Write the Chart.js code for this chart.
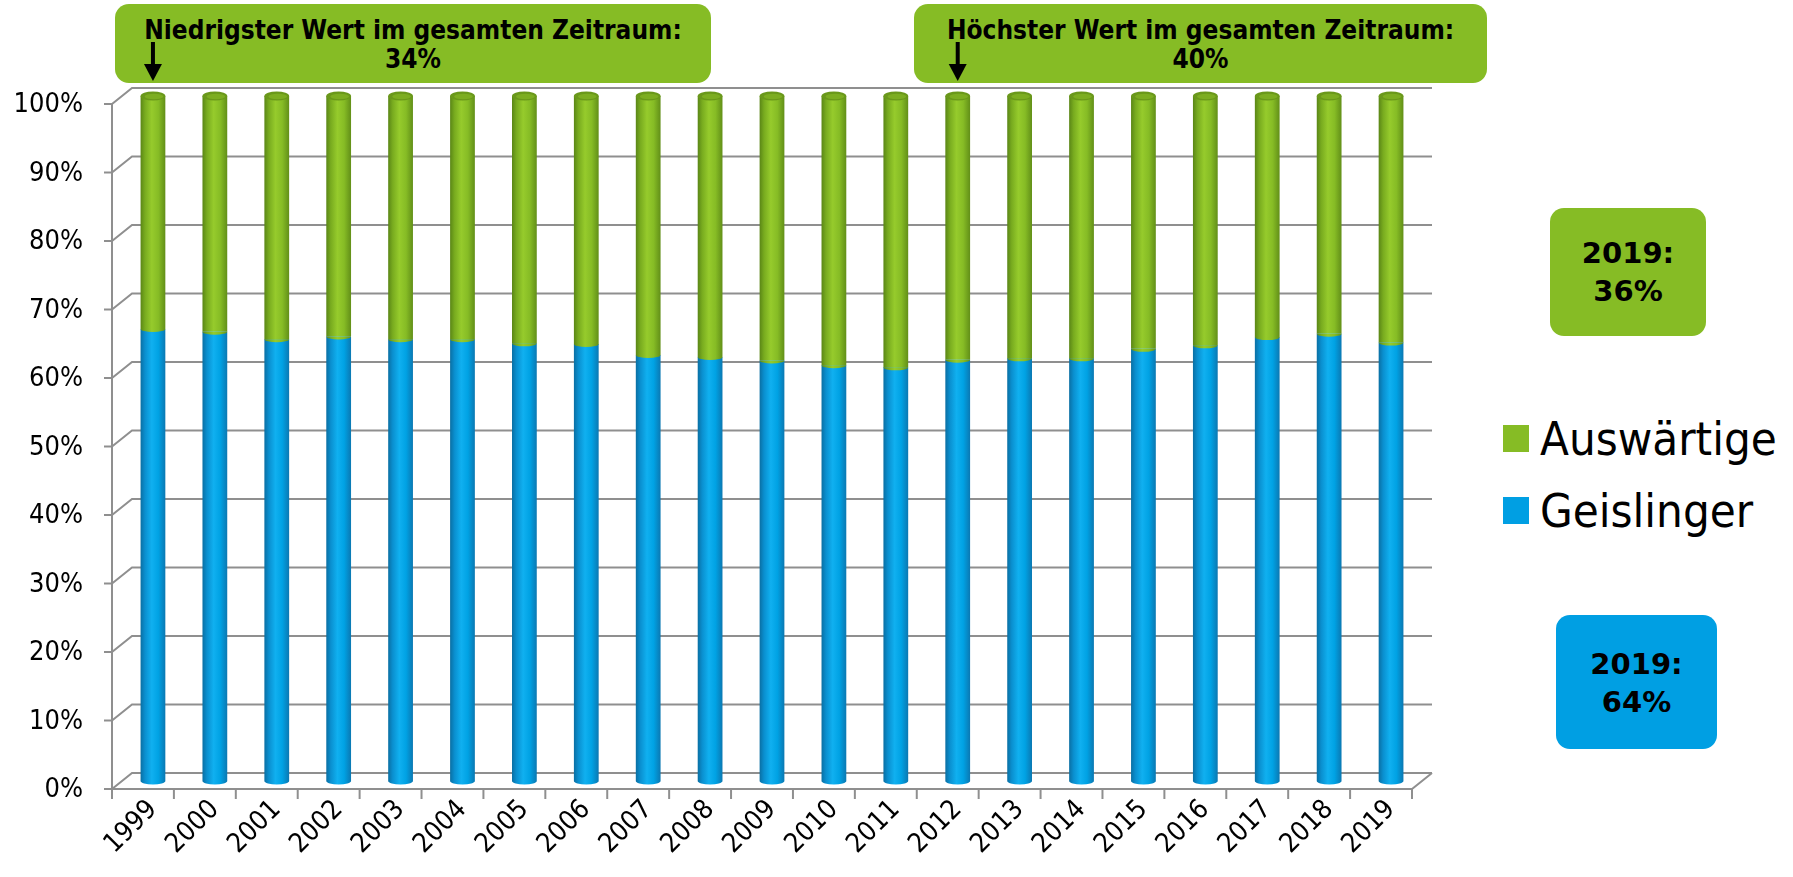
<!DOCTYPE html>
<html lang="de">
<head>
<meta charset="utf-8">
<title>Geislinger und Auswärtige 1999-2019</title>
<script src="https://cdn.jsdelivr.net/npm/chart.js@4.4.1/dist/chart.umd.min.js"></script>
<style>
  html, body { margin: 0; padding: 0; background: #fff; }
  body { width: 1793px; height: 877px; position: relative; overflow: hidden; }
  #chart { position: absolute; left: 0; top: 0; z-index: 2; }
  .box {
    position: absolute; z-index: 1; border-radius: 14px; color: #000;
    text-align: center; font-weight: bold;
  }
  .note { background: #86bc25; font-family: "DejaVu Sans Condensed", "DejaVu Sans", sans-serif; font-size: 26px; line-height: 29px; }
  .year { font-family: "DejaVu Sans", sans-serif; font-size: 29px; line-height: 38px; }
  .legend { position: absolute; z-index: 1; left: 1503px; font-family: "DejaVu Sans Condensed", "DejaVu Sans", sans-serif; font-size: 47px; }
  .legend div { display: flex; align-items: center; height: 60px; }
  .legend span.sq { display: inline-block; width: 26px; height: 27px; margin-right: 11px; }
</style>
</head>
<body>
<div class="box note" style="left:115px; top:4px; width:596px; height:79px; padding-top:12px; box-sizing:border-box;">Niedrigster Wert im gesamten Zeitraum:<br>34%</div>
<div class="box note" style="left:914px; top:4px; width:573px; height:79px; padding-top:12px; box-sizing:border-box;">Höchster Wert im gesamten Zeitraum:<br>40%</div>
<div class="box year" style="left:1550px; top:208px; width:156px; height:128px; background:#86bc25; padding-top:26px; box-sizing:border-box;">2019:<br>36%</div>
<div class="box year" style="left:1556px; top:615px; width:161px; height:134px; background:#009fe3; padding-top:30px; box-sizing:border-box;">2019:<br>64%</div>
<div class="legend" style="top:408px;">
  <div><span class="sq" style="background:#86bc25"></span>Auswärtige</div>
  <div style="margin-top:12px"><span class="sq" style="background:#009fe3"></span>Geislinger</div>
</div>
<canvas id="chart" width="1793" height="877"></canvas>
<script>
// Anteil der Geislinger / Auswärtigen in Prozent
const years = ["1999", "2000", "2001", "2002", "2003", "2004", "2005", "2006", "2007", "2008", "2009",
  "2010", "2011", "2012", "2013", "2014", "2015", "2016", "2017", "2018", "2019"];
const geislinger = [66.0, 65.6, 64.5, 64.9, 64.5, 64.5, 63.9, 63.8, 62.2, 61.9, 61.4,
  60.7, 60.4, 61.5, 61.7, 61.7, 63.1, 63.6, 64.8, 65.3, 64.0];
const auswaertige = geislinger.map((v) => Math.round((100 - v) * 10) / 10);
const yTicks = [0, 10, 20, 30, 40, 50, 60, 70, 80, 90, 100];
const arrowYears = ["1999", "2012"];

// 3D-Versatz der Wand (vorne/hinten)
const DX = 10;
const DY = 8;

const blueStops = ["#0a6fa3", "#0a8fcf", "#10b0f0", "#00a2e4", "#0b78b2"];
const greenStops = ["#5a8616", "#78ab1f", "#96cb2c", "#86bc25", "#628f18"];

function barGradient(ctx, x, w, stops) {
  const g = ctx.createLinearGradient(x - w / 2, 0, x + w / 2, 0);
  g.addColorStop(0, stops[0]);
  g.addColorStop(0.18, stops[1]);
  g.addColorStop(0.45, stops[2]);
  g.addColorStop(0.72, stops[3]);
  g.addColorStop(1, stops[4]);
  return g;
}

function scriptedFill(stops, plain) {
  return function (context) {
    const chart = context.chart;
    const xs = chart.scales.x;
    if (!chart.chartArea || !xs) return plain;
    const x = xs.getPixelForValue(context.dataIndex);
    const w = (chart.chartArea.right - chart.chartArea.left) / years.length * 0.4;
    return barGradient(chart.ctx, x, w, stops);
  };
}

const wallPlugin = {
  id: "wall3d",
  beforeDatasetsDraw(chart) {
    const { ctx, chartArea, scales } = chart;
    const l = chartArea.left, r = chartArea.right;
    const y = scales.y;
    const y0 = y.getPixelForValue(0), y1 = y.getPixelForValue(100);
    ctx.save();
    ctx.strokeStyle = "#8f8f8f";
    ctx.lineWidth = 2;
    yTicks.forEach((v) => {
      const py = y.getPixelForValue(v);
      ctx.beginPath();
      ctx.moveTo(l - DX - 8, py + DY);
      ctx.lineTo(l - DX, py + DY);
      ctx.lineTo(l + DX, py - DY);
      ctx.lineTo(r + DX, py - DY);
      ctx.stroke();
    });
    ctx.beginPath();
    ctx.moveTo(l - DX, y1 + DY);
    ctx.lineTo(l - DX, y0 + DY);
    ctx.lineTo(r - DX, y0 + DY);
    ctx.lineTo(r + DX, y0 - DY);
    ctx.stroke();
    const n = years.length;
    for (let k = 0; k <= n; k++) {
      const xk = l - DX + k * (r - l) / n;
      ctx.beginPath();
      ctx.moveTo(xk, y0 + DY);
      ctx.lineTo(xk, y0 + DY + 10);
      ctx.stroke();
    }
    ctx.restore();
  },
  afterDatasetsDraw(chart) {
    const { ctx } = chart;
    const blue = chart.getDatasetMeta(0).data;
    const green = chart.getDatasetMeta(1).data;
    ctx.save();
    blue.forEach((el, i) => {
      const w = el.width, x = el.x;
      // Boden des blauen Zylinders
      ctx.fillStyle = barGradient(ctx, x, w, blueStops);
      ctx.beginPath();
      ctx.ellipse(x, el.base, w / 2, 3.5, 0, 0, Math.PI);
      ctx.fill();
      // Übergang blau/grün
      const g = green[i];
      ctx.fillStyle = barGradient(ctx, x, w, greenStops);
      ctx.beginPath();
      ctx.ellipse(x, g.base, w / 2, 3, 0, 0, Math.PI);
      ctx.fill();
      // Deckel
      ctx.fillStyle = "#6a981b";
      ctx.beginPath();
      ctx.ellipse(x, g.y, w / 2, 4.5, 0, 0, Math.PI * 2);
      ctx.fill();
      ctx.fillStyle = "#7cad21";
      ctx.beginPath();
      ctx.ellipse(x + 1, g.y + 0.5, w / 2 - 3, 2.8, 0, 0, Math.PI * 2);
      ctx.fill();
    });
    ctx.restore();
  },
  afterDraw(chart) {
    const { ctx, scales } = chart;
    ctx.save();
    ctx.fillStyle = "#000";
    ctx.strokeStyle = "#000";
    arrowYears.forEach((yr) => {
      const x = scales.x.getPixelForValue(years.indexOf(yr));
      ctx.lineWidth = 4;
      ctx.beginPath();
      ctx.moveTo(x, 42);
      ctx.lineTo(x, 68);
      ctx.stroke();
      ctx.beginPath();
      ctx.moveTo(x - 9, 64);
      ctx.lineTo(x + 9, 64);
      ctx.lineTo(x, 81);
      ctx.closePath();
      ctx.fill();
    });
    ctx.restore();
  }
};

const tahomaLike = "'DejaVu Sans Condensed', 'DejaVu Sans', sans-serif";

new Chart(document.getElementById("chart"), {
  type: "bar",
  data: {
    labels: years,
    datasets: [
      {
        label: "Geislinger",
        data: geislinger,
        backgroundColor: scriptedFill(blueStops, "#009fe3"),
        borderWidth: 0,
        barPercentage: 0.5,
        categoryPercentage: 0.8
      },
      {
        label: "Auswärtige",
        data: auswaertige,
        backgroundColor: scriptedFill(greenStops, "#86bc25"),
        borderWidth: 0,
        barPercentage: 0.5,
        categoryPercentage: 0.8
      }
    ]
  },
  options: {
    responsive: false,
    animation: false,
    devicePixelRatio: 1,
    layout: { padding: { top: 96, right: 371, left: 0, bottom: 0 } },
    plugins: {
      legend: { display: false },
      tooltip: { enabled: false }
    },
    scales: {
      x: {
        stacked: true,
        grid: { display: false, drawTicks: false },
        border: { display: false },
        afterFit: (scale) => { scale.height = 96; },
        ticks: {
          minRotation: 45,
          maxRotation: 45,
          padding: 13,
          labelOffset: 0,
          color: "#000",
          font: { family: tahomaLike, size: 27 }
        }
      },
      y: {
        stacked: true,
        min: 0,
        max: 100,
        grid: { display: false, drawTicks: false },
        border: { display: false },
        afterFit: (scale) => { scale.width = 122; },
        afterBuildTicks: (scale) => { scale.ticks = yTicks.map((v) => ({ value: v })); },
        ticks: {
          padding: 39,
          labelOffset: 9,
          color: "#000",
          font: { family: tahomaLike, size: 27 },
          callback: (v) => v + "%"
        }
      }
    }
  },
  plugins: [wallPlugin]
});
</script>
</body>
</html>
